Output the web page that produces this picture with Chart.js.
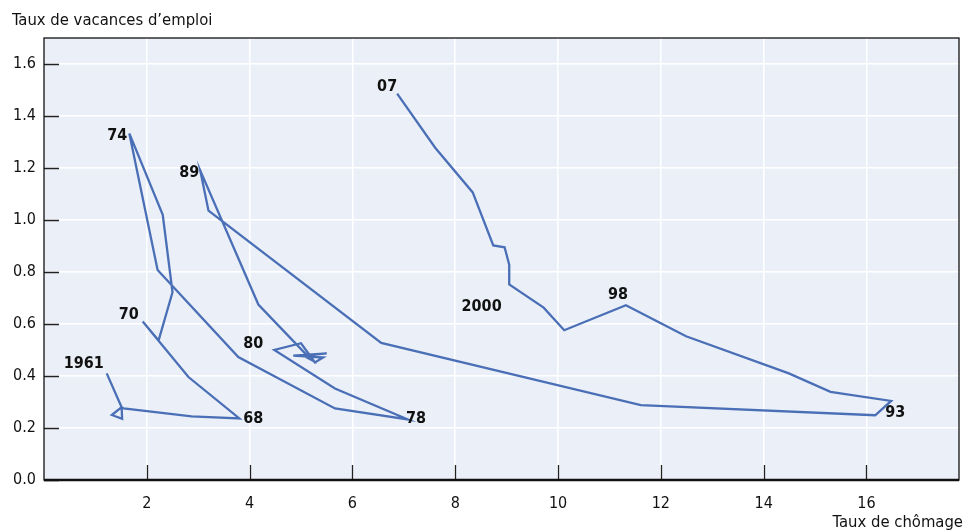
<!DOCTYPE html>
<html>
<head>
<meta charset="utf-8">
<script src="https://cdn.jsdelivr.net/npm/chart.js@4.4.1/dist/chart.umd.min.js"></script>
<style>
  html, body { margin: 0; padding: 0; background: #fff; }
  #wrap { position: relative; width: 963px; height: 530px; }
</style>
</head>
<body>
<div id="wrap"><canvas id="chart" width="963" height="530"></canvas></div>
<script>
// Beveridge curve, 1961-2007
const years = [
  '1961', '62', '63', '64', '65', '66', '67', '68', '69', '70',
  '71', '72', '73', '74', '75', '76', '77', '78', '79', '80',
  '81', '82', '83', '84', '85', '86', '87', '88', '89', '90',
  '91', '92', '93', '94', '95', '96', '97', '98', '99', '2000',
  '01', '02', '03', '04', '05', '06', '07',
];
const unemployment = [
  1.22, 1.51, 1.32, 1.52, 1.51, 1.55, 2.87, 3.80, 2.81, 1.92,
  2.23, 2.50, 2.31, 1.66, 2.21, 3.78, 5.66, 7.08, 5.66, 4.48,
  5.00, 5.27, 5.43, 4.85, 5.50, 5.05, 5.20, 4.17, 3.04, 3.20,
  6.56, 11.61, 16.17, 16.48, 15.30, 14.49, 12.49, 11.32, 10.12, 9.72,
  9.05, 9.05, 8.96, 8.74, 8.34, 7.61, 6.87,
];
const vacancies = [
  0.41, 0.28, 0.25, 0.235, 0.28, 0.275, 0.245, 0.237, 0.396, 0.61,
  0.537, 0.722, 1.02, 1.333, 0.808, 0.473, 0.275, 0.233, 0.352, 0.50,
  0.526, 0.452, 0.471, 0.478, 0.487, 0.478, 0.462, 0.675, 1.19, 1.036,
  0.527, 0.288, 0.249, 0.304, 0.339, 0.41, 0.553, 0.672, 0.576, 0.663,
  0.752, 0.828, 0.895, 0.902, 1.106, 1.278, 1.486,
];
const labelledYears = ['1961', '68', '70', '74', '78', '80', '89', '93', '98', '2000', '07'];
const xTicks = [2, 4, 6, 8, 10, 12, 14, 16];
const yTicks = [0, 0.2, 0.4, 0.6, 0.8, 1.0, 1.2, 1.4, 1.6];

const FONT = '"Liberation Sans Narrow", "DejaVu Sans Condensed", "Roboto Condensed", sans-serif';
const LINE = '#4a6fb6';
const PLOT_BG = '#ebf0f8';

// where each year label sits relative to its point: [dx, dy, align]
const labelPos = {
  '1961': [-3, -10, 'right'],
  '68': [4, 0, 'left'],
  '70': [-4, -7, 'right'],
  '74': [-2, 2, 'right'],
  '78': [-2, -1, 'left'],
  '80': [-11, -6, 'right'],
  '89': [-1, 2, 'right'],
  '93': [10, -2, 'left'],
  '98': [-8, -10, 'center'],
  '2000': [-42, -1, 'right'],
  '07': [0, -7, 'right'],
};

const points = unemployment.map((u, i) => ({ x: u, y: vacancies[i] }));

const decorPlugin = {
  id: 'decor',
  beforeDraw(chart) {
    const { ctx, chartArea: a } = chart;
    ctx.save();
    ctx.fillStyle = PLOT_BG;
    ctx.fillRect(a.left, a.top, a.right - a.left, a.bottom - a.top);
    ctx.restore();
  },
  afterDraw(chart) {
    const { ctx, chartArea: a, scales } = chart;
    ctx.save();

    // inner tick marks
    ctx.strokeStyle = '#222';
    ctx.lineWidth = 1.3;
    ctx.beginPath();
    for (const v of yTicks) {
      const y = Math.round(scales.y.getPixelForValue(v)) + 0.5;
      ctx.moveTo(a.left, y);
      ctx.lineTo(a.left + 15, y);
    }
    for (const v of xTicks) {
      const x = Math.round(scales.x.getPixelForValue(v)) + 0.5;
      ctx.moveTo(x, a.bottom);
      ctx.lineTo(x, a.bottom - 15);
    }
    ctx.stroke();

    // frame
    ctx.strokeStyle = '#111';
    ctx.lineWidth = 1.3;
    ctx.strokeRect(a.left, a.top, a.right - a.left, a.bottom - a.top);
    ctx.lineWidth = 2.5;
    ctx.beginPath();
    ctx.moveTo(a.left, a.bottom);
    ctx.lineTo(a.right, a.bottom);
    ctx.stroke();

    // axis titles
    ctx.fillStyle = '#111';
    ctx.font = '16.5px ' + FONT;
    ctx.textBaseline = 'alphabetic';
    ctx.textAlign = 'left';
    ctx.fillText('Taux de vacances d\u2019emploi', 12, 25);
    ctx.textAlign = 'right';
    ctx.fillText('Taux de ch\u00f4mage', 963, 527);

    // year labels
    ctx.font = 'bold 16px ' + FONT;
    ctx.textBaseline = 'middle';
    for (const yr of labelledYears) {
      const i = years.indexOf(yr);
      const [dx, dy, align] = labelPos[yr];
      const px = scales.x.getPixelForValue(unemployment[i]);
      const py = scales.y.getPixelForValue(vacancies[i]);
      ctx.textAlign = align;
      ctx.fillText(yr, px + dx, py + dy);
    }
    ctx.restore();
  },
};

new Chart(document.getElementById('chart'), {
  type: 'scatter',
  data: {
    datasets: [{
      data: points,
      showLine: true,
      borderColor: LINE,
      borderWidth: 2.3,
      pointRadius: 0,
      tension: 0,
      fill: false,
    }],
  },
  options: {
    responsive: false,
    animation: false,
    layout: { padding: { top: 38, right: 4, left: 0, bottom: 0 } },
    plugins: { legend: { display: false }, tooltip: { enabled: false } },
    scales: {
      x: {
        type: 'linear',
        min: 0,
        max: 17.8,
        afterBuildTicks: (s) => { s.ticks = xTicks.map((v) => ({ value: v })); },
        afterFit: (s) => { s.height = 50; },
        grid: { color: '#ffffff', lineWidth: 1.5, drawTicks: false },
        border: { display: false },
        ticks: { color: '#111', font: { size: 16, family: FONT }, padding: 14 },
      },
      y: {
        type: 'linear',
        min: 0,
        max: 1.7,
        afterBuildTicks: (s) => { s.ticks = yTicks.map((v) => ({ value: v })); },
        afterFit: (s) => { s.width = 44; },
        grid: { color: '#ffffff', lineWidth: 1.5, drawTicks: false },
        border: { display: false },
        ticks: { color: '#111', font: { size: 16, family: FONT }, padding: 8, callback: (v) => v.toFixed(1) },
      },
    },
  },
  plugins: [decorPlugin],
});
</script>
</body>
</html>
